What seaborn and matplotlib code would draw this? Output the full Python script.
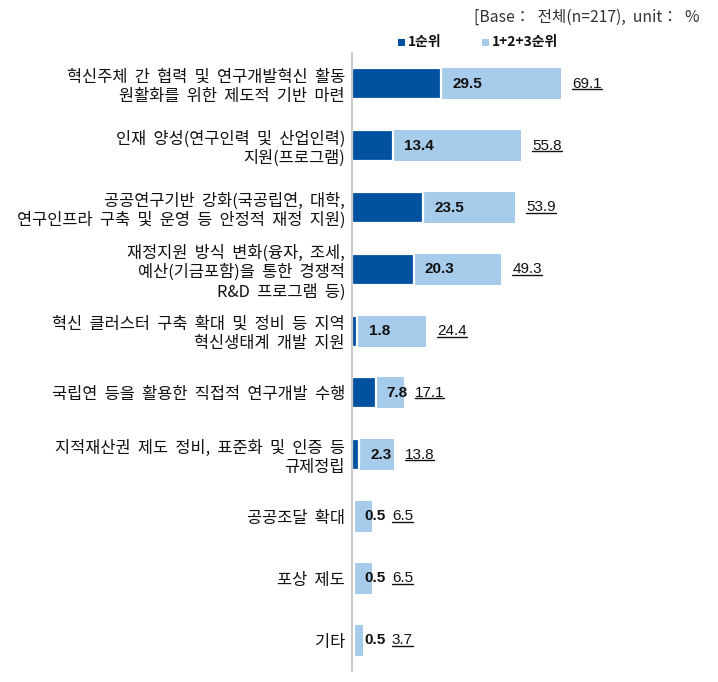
import matplotlib
matplotlib.use("Agg")
import matplotlib.pyplot as plt
import seaborn as sns
import pandas as pd
from matplotlib.patches import Rectangle
from matplotlib.lines import Line2D

categories = [
    "혁신주체 간 협력 및 연구개발혁신 활동\n원활화를 위한 제도적 기반 마련",
    "인재 양성(연구인력 및 산업인력)\n지원(프로그램)",
    "공공연구기반 강화(국공립연, 대학,\n연구인프라 구축 및 운영 등 안정적 재정 지원)",
    "재정지원 방식 변화(융자, 조세,\n예산(기금포함)을 통한 경쟁적\nR&D 프로그램 등)",
    "혁신 클러스터 구축 확대 및 정비 등 지역\n혁신생태계 개발 지원",
    "국립연 등을 활용한 직접적 연구개발 수행",
    "지적재산권 제도 정비, 표준화 및 인증 등\n규제정립",
    "공공조달 확대",
    "포상 제도",
    "기타",
]
first_rank = [29.5, 13.4, 23.5, 20.3, 1.8, 7.8, 2.3, 0.5, 0.5, 0.5]
top3_total = [69.1, 55.8, 53.9, 49.3, 24.4, 17.1, 13.8, 6.5, 6.5, 3.7]
legend_labels = ["1순위", "1+2+3순위"]
header = "[Base： 전체(n=217), unit： %"

DARK = "#0051A0"
LIGHT = "#A7CBEA"


def wide(s):
    # the reference font uses wider word spaces
    return s.replace(" ", "  ")


sns.set_theme(style="white")
plt.rcParams['font.family'] = ['Noto Sans CJK KR', 'DejaVu Sans']

df = pd.DataFrame({"cat": [wide(c) for c in categories],
                   "first": first_rank, "total": top3_total})

fig = plt.figure(figsize=(7.18, 6.82), dpi=100)
W, H = 718, 682
ax = fig.add_axes([352 / W, (H - 671) / H, 303 / W, 618 / H])

sns.barplot(data=df, x="total", y="cat", orient="h", color=LIGHT, saturation=1,
            width=0.5, ax=ax, linewidth=0)
sns.barplot(data=df, x="first", y="cat", orient="h", color=DARK, saturation=1,
            width=0.5, ax=ax, edgecolor="white", linewidth=1.6)

ax.set_xlim(0, 100)
ax.set_ylim(len(categories) - 0.5, -0.5)
ax.set_xlabel("")
ax.set_ylabel("")
ax.set_xticks([])
for s in ["top", "right", "bottom"]:
    ax.spines[s].set_visible(False)
ax.spines["left"].set_color("#C0C0C0")
ax.spines["left"].set_linewidth(1.2)
ax.tick_params(axis="y", length=0, pad=5, labelsize=11.8, labelcolor="#111111")
for lbl in ax.get_yticklabels():
    lbl.set_linespacing(1.18)

num_font = dict(family=["Liberation Sans", "DejaVu Sans"], fontsize=11)
fig.canvas.draw()
renderer = fig.canvas.get_renderer()
for i, (f, t) in enumerate(zip(first_rank, top3_total)):
    t1 = ax.annotate(f"{f:.1f}", xy=(f, i), xytext=(8, 0), textcoords="offset points",
                     ha="left", va="center", fontweight="bold", color="#111111", **num_font)
    bb1 = t1.get_window_extent(renderer)
    x_end_px = ax.transData.transform((t, i))[0] + 11
    x_px = max(x_end_px, bb1.x1 + 6)
    y_px = ax.transData.transform((0, i))[1]
    xf, yf = fig.transFigure.inverted().transform((x_px, y_px))
    t2 = fig.text(xf, yf, f"{t:.1f}", ha="left", va="center", color="#111111", **num_font)
    bb2 = t2.get_window_extent(renderer)
    uy = bb2.y0 + 1.5
    p0 = fig.transFigure.inverted().transform((bb2.x0, uy))
    p1 = fig.transFigure.inverted().transform((bb2.x1, uy))
    fig.add_artist(Line2D([p0[0], p1[0]], [p0[1], p1[1]], transform=fig.transFigure,
                          color="#111111", linewidth=1.0))

# header
fig.text(700 / W, 1 - 17 / H, wide(header), ha="right", va="center", fontsize=11.3,
         color="#333333")

# legend
sq = 7
for x0, col, lab in [(398, DARK, legend_labels[0]), (482, LIGHT, legend_labels[1])]:
    fig.add_artist(Rectangle((x0 / W, 1 - (42 + sq / 2) / H), sq / W, sq / H,
                             transform=fig.transFigure, facecolor=col, edgecolor="none"))
    fig.text((x0 + sq + 3) / W, 1 - 42 / H, lab, ha="left", va="center",
             fontsize=10, fontweight="bold", color="#111111")

fig.savefig("out.png", dpi=100)
